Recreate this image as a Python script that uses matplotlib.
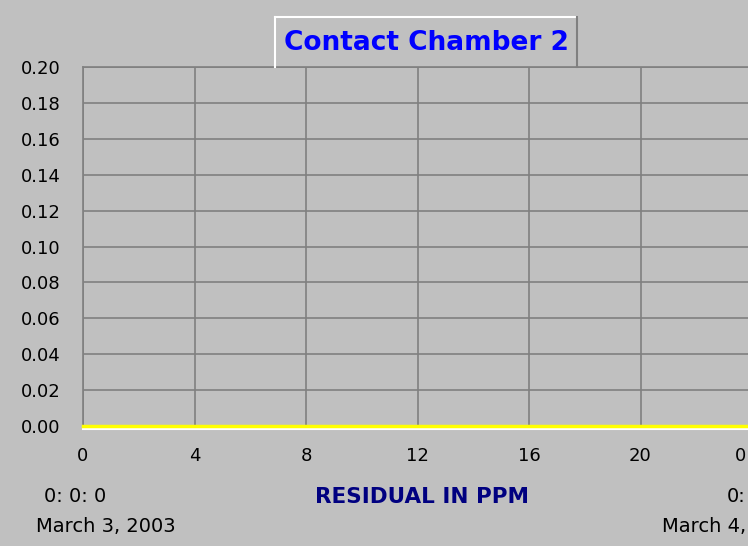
import matplotlib
matplotlib.use("Agg")
import matplotlib.pyplot as plt
from matplotlib.lines import Line2D
from matplotlib.transforms import ScaledTranslation

# Data
hours = [0, 4, 8, 12, 16, 20, 24]
residual_ppm = [0.0, 0.0, 0.0, 0.0, 0.0, 0.0, 0.0]
y_ticks = [0.00, 0.02, 0.04, 0.06, 0.08, 0.10, 0.12, 0.14, 0.16, 0.18, 0.20]
x_ticks = [0, 4, 8, 12, 16, 20, 24]
x_tick_labels = ["0", "4", "8", "12", "16", "20", "0"]
title = "Contact Chamber 2"
x_label = "RESIDUAL IN PPM"
start_time, start_date = "0: 0: 0", "March 3, 2003"
end_time, end_date = "0:", "March 4,"

W, H = 748, 546
BG = "#c0c0c0"
fig = plt.figure(figsize=(W / 100, H / 100), dpi=100, facecolor=BG)

def fx(px):
    return px / W

def fy(py):
    return 1 - py / H

ax_left, ax_right, ax_top, ax_bottom = 83, 752, 67, 426
ax = fig.add_axes([fx(ax_left), fy(ax_bottom), fx(ax_right - ax_left), fy(ax_top) - fy(ax_bottom)])
ax.set_facecolor(BG)
ax.set_xlim(0, 24)
ax.set_ylim(0, 0.20)
ax.set_yticks(y_ticks)
ax.set_yticklabels([f"{v:.2f}" for v in y_ticks])
ax.set_xticks(x_ticks)
ax.set_xticklabels(x_tick_labels)
ax.grid(True, color="#808080", linewidth=1.2)
ax.set_axisbelow(True)
for s in ["top", "left"]:
    ax.spines[s].set_color("#808080")
    ax.spines[s].set_linewidth(1.2)
ax.spines["right"].set_visible(False)
ax.spines["bottom"].set_color("white")
ax.spines["bottom"].set_linewidth(1.5)
ax.spines["bottom"].set_position(("outward", 2))
ax.tick_params(axis="both", length=0, labelsize=13, colors="black")
ax.tick_params(axis="y", pad=16)
ax.tick_params(axis="x", pad=13)
for lab in ax.get_xticklabels() + ax.get_yticklabels():
    lab.set_family("DejaVu Sans")
last = ax.get_xticklabels()[-1]
last.set_transform(last.get_transform() + ScaledTranslation(-12 / 100, 0, fig.dpi_scale_trans))

ax.plot(hours, residual_ppm, color="#ffff00", linewidth=2.5, clip_on=False, zorder=5)

# Title box
bx0, bx1, by0, by1 = 275, 577, 17, 67
fig.add_artist(Line2D([fx(bx0), fx(bx1)], [fy(by0), fy(by0)], color="white", lw=1.5))
fig.add_artist(Line2D([fx(bx0), fx(bx0)], [fy(by0), fy(by1)], color="white", lw=1.5))
fig.add_artist(Line2D([fx(bx1), fx(bx1)], [fy(by0), fy(by1)], color="#808080", lw=1.5))
fig.text(fx((bx0 + bx1) / 2), fy(43), title, color="#0000ff", fontsize=19,
         fontweight="bold", ha="center", va="center", family="DejaVu Sans")

fig.text(fx(422), fy(497), x_label, color="#000080", fontsize=15.5, fontweight="bold",
         ha="center", va="center", family="DejaVu Sans")
fig.text(fx(75), fy(497), start_time, fontsize=14, ha="center", va="center", family="DejaVu Sans")
fig.text(fx(106), fy(526), start_date, fontsize=14, ha="center", va="center", family="DejaVu Sans")
fig.text(fx(746), fy(497), end_time, fontsize=14, ha="right", va="center", family="DejaVu Sans")
fig.text(fx(746), fy(526), end_date, fontsize=14, ha="right", va="center", family="DejaVu Sans")

fig.savefig("out.png", dpi=100, facecolor=BG)
